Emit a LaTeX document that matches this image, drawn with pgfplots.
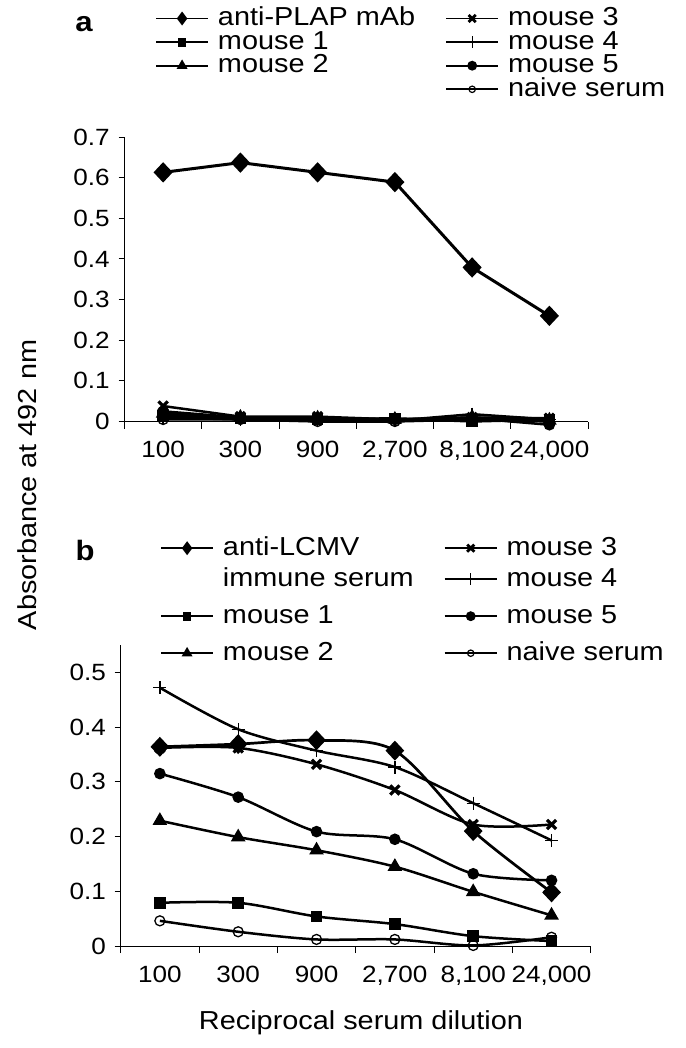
\documentclass[border=0pt]{standalone}
\usepackage{fontspec}
\setmainfont{Liberation Sans}[FakeStretch=1.11]
\usepackage{pgfplots}
\pgfplotsset{compat=1.18}
\usetikzlibrary{plotmarks}
\begin{document}
\fontsize{26pt}{30pt}\selectfont
\begin{tikzpicture}
\useasboundingbox (0,0) rectangle (685pt,-1048pt);
\pgfplotsset{
  myaxis/.style={
    scale only axis,
    axis lines=left,
    axis line style={-, line width=1pt},
    xmin=-0.5, xmax=5.5,
    xtick={0,...,5},
    xticklabels={100,300,900,{2,700},{8,100},{24,000}},
    major x tick style={draw=none},
    minor xtick={-0.5,0.5,...,5.5},
    minor tick length=7pt,
    major tick length=6pt,
    tick align=outside,
    tick style={line width=1pt, black},
    ticklabel style={font=\fontsize{23.5pt}{26pt}\selectfont},
    xticklabel style={yshift=-5pt},
    yticklabel style={/pgf/number format/fixed, /pgf/number format/precision=1, /pgf/number format/assume math mode=true},
    clip=false,
    legend columns=2,
    legend style={draw=none, fill=none, inner sep=0pt, anchor=north west,
      cells={anchor=base west},
      nodes={inner sep=0pt, font=\fontsize{26pt}{30pt}\selectfont},
      /tikz/every odd column/.append style={column sep=9pt},
      /tikz/every even column/.append style={column sep=30pt}},
    legend image code/.code={\draw[mark repeat=2, mark phase=2, line width=1.8pt, ##1] plot coordinates {(0pt,7pt) (26pt,7pt) (52pt,7pt)};},
  },
}
% ---------------- panel a ----------------
\begin{axis}[myaxis,
  at={(124.5pt,-421.5pt)}, anchor=south west,
  width=463.5pt, height=284.5pt,
  ymin=0, ymax=0.7, ytick={0,0.1,0.2,0.3,0.4,0.5,0.6,0.7},
  legend style={at={(0.0658,1.4524)}, nodes={text height=17pt, text depth=6.6pt}},
]
\addplot[black, line width=2.5pt, mark=square*, mark size=4.5pt, forget plot] coordinates {(0,0.015) (1,0.008) (2,0.005) (3,0.008) (4,0.0) (5,0.005)};
\addplot[black, line width=2.5pt, mark=triangle*, mark size=6pt, forget plot] coordinates {(0,0.02) (1,0.01) (2,0.008) (3,0.005) (4,0.01) (5,0.003)};
\addplot[black, line width=2.5pt, mark=+, mark size=6.5pt, mark options={line width=1.3pt}, forget plot] coordinates {(0,0.01) (1,0.005) (2,0.005) (3,0.002) (4,0.018) (5,0.005)};
\addplot[black, line width=2.5pt, mark=*, mark size=4.5pt, forget plot] coordinates {(0,0.025) (1,0.01) (2,0.008) (3,0.005) (4,0.008) (5,-0.008)};
\addplot[black, line width=2.5pt, mark=o, mark size=5pt, mark options={fill=white, line width=1.3pt}, forget plot] coordinates {(0,0.005) (1,0.005) (2,0.0) (3,0.0) (4,0.005) (5,0.0)};
\addplot[black, line width=2.5pt, mark=x, mark size=6.5pt, every mark/.append style={line width=3.2pt}, forget plot] coordinates {(0,0.038) (1,0.012) (2,0.012) (3,0.005) (4,0.01) (5,0.008)};
\addplot[black, line width=3pt, mark=diamond*, mark size=8pt, mark options={xscale=1.25}, forget plot] coordinates {(0,0.613) (1,0.637) (2,0.613) (3,0.589) (4,0.379) (5,0.26)};
\addlegendimage{black, mark=diamond*, mark size=5.5pt}
\addlegendentry{anti-PLAP mAb}
\addlegendimage{black, mark=x, mark size=5pt, every mark/.append style={line width=2.8pt}}
\addlegendentry{mouse 3}
\addlegendimage{black, mark=square*, mark size=3.5pt}
\addlegendentry{mouse 1}
\addlegendimage{black, mark=+, mark size=6pt, mark options={line width=1.2pt}}
\addlegendentry{mouse 4}
\addlegendimage{black, mark=triangle*, mark size=4.5pt}
\addlegendentry{mouse 2}
\addlegendimage{black, mark=*, mark size=4pt}
\addlegendentry{mouse 5}
\addlegendimage{empty legend}
\addlegendentry{}
\addlegendimage{black, mark=o, mark size=3.2pt, mark options={fill=white, line width=1.2pt}}
\addlegendentry{naive serum}
\end{axis}
% ---------------- panel b ----------------
\begin{axis}[myaxis,
  at={(120.7pt,-946pt)}, anchor=south west,
  width=470pt, height=301pt,
  ymin=0, ymax=0.55, ytick={0,0.1,0.2,0.3,0.4,0.5},
  legend style={at={(0.0836,1.3588)}, nodes={text height=18pt, text depth=19pt}},
]
\addplot[black, line width=2.5pt, smooth, mark=o, mark size=5pt, mark options={fill=white, line width=1.3pt}, forget plot] coordinates {(0,0.046) (1,0.026) (2,0.012) (3,0.012) (4,0.001) (5,0.016)};
\addplot[black, line width=2.5pt, smooth, mark=square*, mark size=4.5pt, forget plot] coordinates {(0,0.079) (1,0.079) (2,0.054) (3,0.040) (4,0.018) (5,0.009)};
\addplot[black, line width=2.5pt, smooth, mark=triangle*, mark size=6pt, forget plot] coordinates {(0,0.229) (1,0.199) (2,0.175) (3,0.145) (4,0.099) (5,0.056)};
\addplot[black, line width=2.5pt, smooth, mark=*, mark size=4.5pt, forget plot] coordinates {(0,0.315) (1,0.272) (2,0.209) (3,0.195) (4,0.132) (5,0.120)};
\addplot[black, line width=2.5pt, smooth, mark=x, mark size=6.5pt, every mark/.append style={line width=3.2pt}, forget plot] coordinates {(0,0.362) (1,0.362) (2,0.332) (3,0.285) (4,0.222) (5,0.222)};
\addplot[black, line width=2.5pt, smooth, mark=+, mark size=6.5pt, mark options={line width=1.3pt}, forget plot] coordinates {(0,0.472) (1,0.396) (2,0.357) (3,0.327) (4,0.261) (5,0.193)};
\addplot[black, line width=2.7pt, smooth, mark=diamond*, mark size=8pt, mark options={xscale=1.25}, forget plot] coordinates {(0,0.364) (1,0.369) (2,0.376) (3,0.357) (4,0.210) (5,0.098)};
\addlegendimage{black, mark=diamond*, mark size=5.5pt}
\addlegendentry[text depth=13pt]{anti-LCMV}
\addlegendimage{black, mark=x, mark size=5pt, every mark/.append style={line width=2.8pt}}
\addlegendentry[text depth=13pt]{mouse 3}
\addlegendimage{empty legend}
\addlegendentry{immune serum}
\addlegendimage{black, mark=+, mark size=6pt, mark options={line width=1.2pt}}
\addlegendentry{mouse 4}
\addlegendimage{black, mark=square*, mark size=3.5pt}
\addlegendentry{mouse 1}
\addlegendimage{black, mark=*, mark size=4pt}
\addlegendentry{mouse 5}
\addlegendimage{black, mark=triangle*, mark size=4.5pt}
\addlegendentry{mouse 2}
\addlegendimage{black, mark=o, mark size=3.2pt, mark options={fill=white, line width=1.2pt}}
\addlegendentry{naive serum}
\end{axis}
% labels
\node[rotate=90, font=\fontsize{26pt}{30pt}\selectfont] at (27pt,-485pt) {Absorbance at 492 nm};
\node[font=\fontsize{26pt}{30pt}\selectfont] at (361pt,-1023pt) {Reciprocal serum dilution};
\node[anchor=base, font=\fontsize{28pt}{30pt}\bfseries] at (84pt,-32pt) {a};
\node[anchor=base, font=\fontsize{28pt}{30pt}\bfseries] at (85pt,-560pt) {b};
\end{tikzpicture}
\end{document}
